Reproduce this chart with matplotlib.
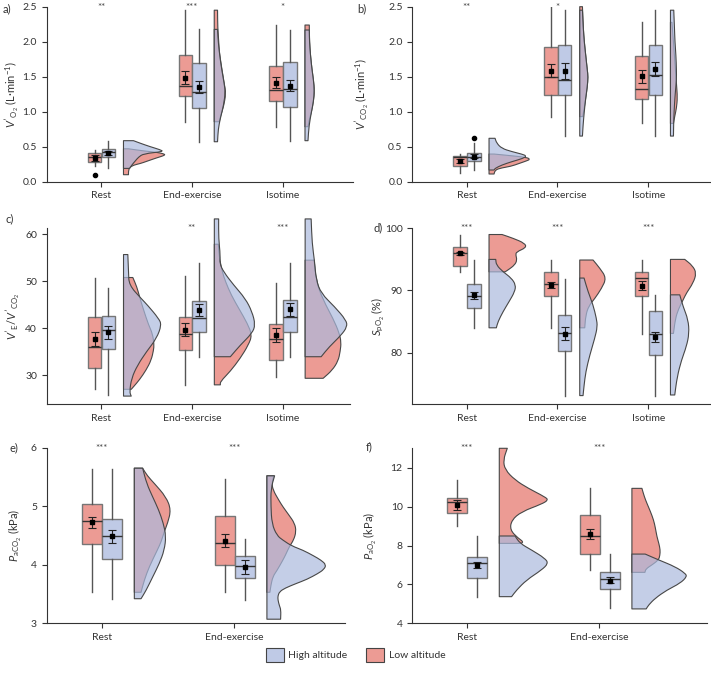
import matplotlib
matplotlib.use("Agg")
import matplotlib.pyplot as plt
from matplotlib.patches import Patch, PathPatch
from matplotlib.path import Path

plt.rcParams['font.family'] = ['Lato', 'DejaVu Sans']
plt.rcParams['mathtext.fontset'] = 'custom'
plt.rcParams['mathtext.rm'] = 'Lato'
plt.rcParams['mathtext.it'] = 'Lato:italic'
plt.rcParams['mathtext.bf'] = 'Lato:bold'
plt.rcParams['axes.unicode_minus'] = False

cats3 = ["Rest", "End-exercise", "Isotime"]
cats2 = ["Rest", "End-exercise"]

# box stats per category: [whisker low, q1, median, q3, whisker high]
# violin profiles: (value, density width) pairs

# ---- a) VO2
a_low_box = [[0.23, 0.276, 0.348, 0.405, 0.46], [0.857, 1.219, 1.362, 1.805, 2.45], [0.786, 1.148, 1.31, 1.652, 2.238]]
a_high_box = [[0.19, 0.348, 0.43, 0.467, 0.586], [0.571, 1.057, 1.281, 1.69, 2.176], [0.586, 1.067, 1.319, 1.71, 2.167]]
a_low_mean = [0.343, 1.486, 1.414]
a_low_err = [(0.30, 0.38), (1.39, 1.58), (1.333, 1.50)]
a_high_mean = [0.41, 1.348, 1.371]
a_high_err = [(0.38, 0.44), (1.262, 1.438), (1.30, 1.452)]
a_low_out = [[0.10], [], []]
a_high_out = [[], [], []]
a_stars = ["**", "***", "*"]
a_low_viol = [
    [(0.47, 5), (0.44, 20), (0.42, 33), (0.40, 40), (0.38, 42), (0.34, 33), (0.29, 23), (0.26, 17), (0.237, 10), (0.20, 6), (0.15, 5), (0.10, 5)],
    [(2.45, 3.3), (2.2, 3.5), (2.0, 4.5), (1.86, 5), (1.64, 7.3), (1.40, 10), (1.26, 11.7), (1.07, 9.3), (0.95, 6.5), (0.857, 5)],
    [(2.238, 4.3), (2.0, 4.5), (1.8, 5.5), (1.6, 7), (1.45, 8.5), (1.3, 9.5), (1.15, 8.5), (1.0, 6.5), (0.9, 4.5), (0.786, 3)],
]
a_high_viol = [
    [(0.586, 10), (0.55, 16.7), (0.50, 26.7), (0.457, 36.7), (0.43, 40), (0.40, 20), (0.35, 15), (0.30, 12), (0.25, 9), (0.19, 6)],
    [(2.176, 3.3), (2.0, 4), (1.8, 5.5), (1.6, 7.5), (1.4, 10), (1.28, 11), (1.1, 9.5), (0.9, 6), (0.75, 4), (0.571, 3.3)],
    [(2.167, 4.3), (2.0, 4.5), (1.8, 5.5), (1.6, 7), (1.45, 8.5), (1.3, 9.3), (1.15, 8.5), (1.0, 6.5), (0.8, 4), (0.586, 3)],
]

# ---- b) VCO2
b_low_box = [[0.12, 0.229, 0.35, 0.367, 0.395], [0.93, 1.243, 1.49, 1.919, 2.5], [0.833, 1.176, 1.319, 1.80, 2.276]]
b_high_box = [[0.167, 0.295, 0.357, 0.405, 0.55], [0.652, 1.243, 1.448, 1.948, 2.45], [0.652, 1.243, 1.524, 1.948, 2.45]]
b_low_mean = [0.295, 1.586, 1.505]
b_low_err = [(0.267, 0.324), (1.49, 1.676), (1.41, 1.60)]
b_high_mean = [0.36, 1.581, 1.614]
b_high_err = [(0.338, 0.39), (1.471, 1.69), (1.514, 1.71)]
b_low_out = [[], [], []]
b_high_out = [[0.62], [], []]
b_stars = ["**", "*", ""]
b_low_viol = [
    [(0.395, 5), (0.38, 16), (0.348, 37.7), (0.32, 41), (0.30, 38), (0.26, 30), (0.22, 22), (0.19, 10), (0.16, 6), (0.11, 5)],
    [(2.5, 2.7), (2.2, 3.5), (2.0, 4.5), (1.8, 6), (1.6, 7.5), (1.5, 8.3), (1.35, 7.5), (1.2, 6), (1.05, 4.5), (0.93, 3)],
    [(2.276, 1.5), (2.0, 3), (1.8, 4), (1.6, 5), (1.4, 6), (1.2, 7), (1.05, 6), (0.95, 4.5), (0.833, 3)],
]
b_high_viol = [
    [(0.62, 6), (0.55, 7.7), (0.476, 12.7), (0.43, 22.7), (0.395, 32.7), (0.367, 37.7), (0.333, 34), (0.286, 22.7), (0.238, 12.7), (0.19, 6), (0.167, 5)],
    [(2.45, 2.7), (2.2, 3.5), (2.0, 4.5), (1.8, 6), (1.6, 7.5), (1.5, 8.3), (1.35, 7.5), (1.2, 6), (1.0, 4.5), (0.8, 3.3), (0.652, 2.7)],
    [(2.45, 3.3), (2.2, 4), (2.0, 4.5), (1.8, 5.5), (1.6, 6), (1.45, 6), (1.3, 5), (1.1, 4), (0.9, 3.3), (0.652, 3)],
]

# ---- c) VE/VCO2
c_low_box = [[26.95, 31.6, 36.0, 42.3, 50.7], [27.9, 35.3, 38.7, 42.3, 51.1], [29.5, 33.3, 37.7, 40.9, 49.6]]
c_high_box = [[25.7, 35.5, 39.7, 42.6, 48.5], [33.9, 39.1, 42.1, 45.7, 53.8], [33.9, 39.2, 42.4, 45.9, 53.8]]
c_low_mean = [37.7, 39.7, 38.6]
c_low_err = [(36.2, 39.1), (38.3, 41.2), (37.1, 40.1)]
c_high_mean = [39.1, 43.9, 44.0]
c_high_err = [(37.7, 40.4), (42.6, 45.1), (42.6, 45.4)]
c_low_out = [[], [], []]
c_high_out = [[], [], []]
c_stars = ["", "**", "***"]
c_low_viol = [
    [(50.8, 9.3), (48.8, 13.3), (46.7, 16), (43.9, 20), (40.7, 25), (38.8, 29), (36.5, 30.5), (35.3, 30), (33.2, 27.7), (31.1, 22.7), (29, 16), (27.5, 10), (26.95, 7.7)],
    [(57.9, 4), (55, 5), (52, 8), (50, 11), (47, 17), (44, 25), (41, 33), (38.5, 37.7), (36.4, 34), (33.6, 26), (30.8, 16), (28.6, 6), (27.9, 6)],
    [(54.5, 9), (50, 11), (46, 18), (42, 28), (39, 34), (37, 36), (35, 35), (33, 33), (31, 27), (29.3, 18)],
]
c_high_viol = [
    [(55.7, 4.3), (52, 5), (49.2, 5.5), (46.3, 17.7), (44.9, 24), (42.1, 35), (40.7, 38), (37.8, 33), (35, 23), (32.1, 14), (29.3, 8), (26.4, 6), (25.5, 7.7)],
    [(63.3, 4.3), (59.1, 4.3), (55.5, 6), (53.8, 5.3), (52, 9.3), (49.2, 19.3), (46.3, 31), (43.5, 37.7), (40.7, 41), (38.9, 37.7), (36.4, 26), (33.9, 16)],
    [(63.3, 6), (58, 7), (54.5, 9.3), (50.3, 11), (47.4, 16), (44.6, 29.3), (41.7, 41), (40.3, 42), (38.5, 36), (36, 24), (33.9, 16)],
]

# ---- d) SpO2
d_low_box = [[93.0, 93.9, 96.0, 97.05, 98.9], [84.0, 89.17, 91.0, 93.03, 94.9], [83.06, 89.1, 92.06, 92.97, 94.9]]
d_high_box = [[84.0, 87.24, 89.17, 91.05, 94.9], [73.1, 80.3, 83.1, 86.1, 91.85], [73.1, 79.7, 82.95, 86.7, 89.3]]
d_low_mean = [95.95, 90.9, 90.8]
d_low_err = [(95.65, 96.25), (90.45, 91.4), (90.1, 91.5)]
d_high_mean = [89.2, 83.0, 82.5]
d_high_err = [(88.6, 89.7), (82.0, 84.1), (81.7, 83.4)]
d_low_out = [[], [], []]
d_high_out = [[], [], []]
d_stars = ["***", "***", "***"]
d_low_viol = [
    [(99, 13), (98.4, 24), (97.6, 35.7), (96.9, 37.3), (96.2, 27.3), (95.7, 26.7), (94.9, 28), (94.1, 25.7), (93.3, 19), (93.0, 16)],
    [(94.9, 13.3), (93.6, 20), (92, 26.7), (90.3, 21.7), (88.7, 15), (87.5, 9), (86, 6), (84, 5)],
    [(95, 14.3), (94, 22), (92.8, 26), (91.2, 22.7), (89.6, 16), (88.5, 12.7), (87, 8), (85.5, 5), (83.1, 3)],
]
d_high_viol = [
    [(95, 6.7), (94.1, 7.3), (93, 14), (92, 22.3), (90.9, 26.7), (89.8, 25.7), (88.2, 20), (86.6, 14), (85, 9), (84, 7.3)],
    [(92, 4.3), (89.8, 8.3), (87.7, 13.3), (85.5, 16.7), (84.2, 17.7), (82.3, 15), (79.6, 10), (76.9, 6), (74.7, 4.3), (73.1, 3.3)],
    [(89.3, 9.3), (87.4, 12.7), (85.3, 17.7), (83.1, 18.7), (81, 16), (78.8, 11), (76.1, 6.7), (73.2, 4.3)],
]

# ---- e) PaCO2
e_low_box = [[3.53, 4.36, 4.75, 5.04, 5.63], [3.53, 4.0, 4.38, 4.84, 5.47]]
e_high_box = [[3.42, 4.10, 4.49, 4.78, 5.64], [3.39, 3.77, 3.98, 4.15, 4.44]]
e_low_mean = [4.73, 4.41]
e_low_err = [(4.62, 4.81), (4.30, 4.52)]
e_high_mean = [4.49, 3.97]
e_high_err = [(4.38, 4.59), (3.84, 4.08)]
e_low_out = [[], []]
e_high_out = [[], []]
e_stars = ["***", "***"]
e_low_viol = [
    [(5.65, 8.3), (5.52, 13), (5.39, 20), (5.16, 31.7), (4.94, 36.7), (4.71, 33.3), (4.57, 30), (4.40, 27), (4.25, 23), (3.97, 15), (3.74, 10), (3.53, 6.7)],
    [(5.52, 7), (5.40, 5), (5.28, 6), (5.10, 12), (4.99, 16), (4.85, 22), (4.71, 27.7), (4.57, 29.3), (4.42, 26.7), (4.32, 22.7), (4.18, 19), (4.08, 16), (3.90, 10), (3.80, 6), (3.65, 4), (3.53, 3)],
]
e_high_viol = [
    [(5.65, 8.3), (5.39, 12.3), (5.16, 18.3), (4.94, 24.3), (4.71, 29), (4.49, 31.7), (4.25, 30), (4.02, 25), (3.79, 18.3), (3.56, 11.7), (3.42, 6.7)],
    [(5.52, 7.7), (5.3, 4), (5.0, 4), (4.7, 5), (4.5, 10), (4.42, 16), (4.32, 25), (4.25, 36), (4.15, 47), (4.08, 54), (4.0, 59.3), (3.92, 57), (3.85, 51), (3.75, 40), (3.68, 29.3), (3.6, 18), (3.54, 12.7), (3.47, 11), (3.40, 11), (3.3, 12.5), (3.23, 14), (3.07, 13.7)],
]

# ---- f) PaO2
f_low_box = [[9.0, 9.65, 10.22, 10.46, 11.37], [6.74, 7.56, 8.49, 9.57, 10.94]]
f_high_box = [[5.37, 6.31, 7.08, 7.43, 8.49], [4.77, 5.78, 6.28, 6.62, 7.56]]
f_low_mean = [10.1, 8.58]
f_low_err = [(9.83, 10.34), (8.32, 8.85)]
f_high_mean = [7.0, 6.19]
f_high_err = [(6.83, 7.17), (6.06, 6.4)]
f_low_out = [[], []]
f_high_out = [[], []]
f_stars = ["***", "***"]
f_low_viol = [
    [(13.0, 8), (12.4, 4), (11.9, 5.7), (11.37, 15.7), (10.94, 29), (10.5, 45.7), (10.34, 49), (10.13, 42.3), (9.74, 22.3), (9.31, 12.3), (8.8, 10.7), (8.37, 19), (8.2, 24), (8.11, 22)],
    [(10.94, 10), (10.5, 12.5), (10.17, 15), (9.75, 18.5), (9.31, 21.7), (8.9, 23.5), (8.46, 25), (8.1, 27), (7.77, 28.3), (7.5, 28), (7.26, 26.7), (7.0, 20), (6.8, 14), (6.62, 13)],
]
f_high_viol = [
    [(8.49, 15.7), (8.11, 20.7), (7.77, 32.3), (7.34, 45.7), (7.08, 49), (6.74, 42.3), (6.23, 27.3), (5.71, 17.3), (5.37, 12.3)],
    [(7.56, 13.3), (7.26, 26.7), (6.91, 43.3), (6.57, 53.3), (6.4, 55), (6.06, 48.3), (5.71, 35), (5.29, 23.3), (4.94, 16.7), (4.74, 14.3)],
]

LOW = '#ec9b94'
HIGH_BOX = '#bfcae6'
HIGH_VIOL = (0.675, 0.729, 0.871, 0.7)
EDGE = '#474747'
TXT = '#333333'


def half_violin(ax, x0, prof, face, scale):
    # outline: flat top, rounded outer edge (quadratic curves through the read points), flat bottom
    pts = [(x0 + w * scale, y) for y, w in prof]
    verts = [(x0, pts[0][1]), pts[0]]
    codes = [Path.MOVETO, Path.LINETO]
    verts.append(((pts[0][0] + pts[1][0]) / 2, (pts[0][1] + pts[1][1]) / 2))
    codes.append(Path.LINETO)
    for k in range(1, len(pts) - 1):
        mid = ((pts[k][0] + pts[k + 1][0]) / 2, (pts[k][1] + pts[k + 1][1]) / 2)
        verts += [pts[k], mid]
        codes += [Path.CURVE3, Path.CURVE3]
    verts += [pts[-1], (x0, pts[-1][1]), (x0, pts[0][1])]
    codes += [Path.LINETO, Path.LINETO, Path.CLOSEPOLY]
    ax.add_patch(PathPatch(Path(verts, codes), facecolor=face, edgecolor=EDGE, lw=0.8,
                           joinstyle='round', clip_on=False, zorder=2))


def draw_panel(ax, cats, low_box, high_box, low_mean, low_err, high_mean, high_err,
               low_out, high_out, low_viol, high_viol, stars, px_per_cat, star_y):
    scale = 1.0 / px_per_cat
    for i in range(len(cats)):
        for off, box, mean, err, out, col in [(-0.072, low_box[i], low_mean[i], low_err[i], low_out[i], LOW),
                                             (0.08, high_box[i], high_mean[i], high_err[i], high_out[i], HIGH_BOX)]:
            st = dict(whislo=box[0], q1=box[1], med=box[2], q3=box[3], whishi=box[4], fliers=out)
            ax.bxp([st], positions=[i + off], widths=0.15, patch_artist=True, showcaps=False,
                   boxprops=dict(facecolor=col, edgecolor='#767676', lw=1.0),
                   whiskerprops=dict(color='#555555', lw=1.0),
                   medianprops=dict(color='#333333', lw=1.0),
                   flierprops=dict(marker='o', markersize=3, markerfacecolor='black', markeredgecolor='black'),
                   manage_ticks=False, zorder=3)
            ax.errorbar([i + off], [mean], yerr=[[mean - err[0]], [err[1] - mean]], fmt='s', ms=2.5,
                        color='black', ecolor='#222222', elinewidth=0.8, capsize=3, capthick=0.8, zorder=4)
        half_violin(ax, i + 0.246, low_viol[i], LOW, scale)
        half_violin(ax, i + 0.246, high_viol[i], HIGH_VIOL, scale)
        if stars[i]:
            ax.text(i, star_y, stars[i], ha='center', va='baseline', fontsize=7, color='#444444', clip_on=False)
    ax.set_xticks(range(len(cats)))
    ax.set_xticklabels(cats)
    ax.spines['top'].set_visible(False)
    ax.spines['right'].set_visible(False)
    for s in ['left', 'bottom']:
        ax.spines[s].set_color('#333333')
        ax.spines[s].set_linewidth(0.8)
    ax.tick_params(length=3.5, width=0.8, color='#333333', labelcolor=TXT, labelsize=7.5)


fig = plt.figure(figsize=(7.11, 6.8), dpi=100)
W, H = 711.0, 680.0


def add_axes(l, r, top, bot):
    return fig.add_axes([l / W, 1 - bot / H, (r - l) / W, (bot - top) / H])


ax_a = add_axes(46.7, 353, 6.7, 181.7)
ax_b = add_axes(412.3, 711, 6.7, 181.7)
ax_c = add_axes(46.7, 350, 228.3, 404.3)
ax_d = add_axes(412.3, 711, 228.3, 404.3)
ax_e = add_axes(46.7, 345, 447.7, 623.3)
ax_f = add_axes(412.3, 706.7, 448.3, 623.3)

draw_panel(ax_a, cats3, a_low_box, a_high_box, a_low_mean, a_low_err, a_high_mean, a_high_err,
           a_low_out, a_high_out, a_low_viol, a_high_viol, a_stars, 90.7, 2.446)
draw_panel(ax_b, cats3, b_low_box, b_high_box, b_low_mean, b_low_err, b_high_mean, b_high_err,
           b_low_out, b_high_out, b_low_viol, b_high_viol, b_stars, 90.7, 2.446)
draw_panel(ax_c, cats3, c_low_box, c_high_box, c_low_mean, c_low_err, c_high_mean, c_high_err,
           c_low_out, c_high_out, c_low_viol, c_high_viol, c_stars, 90.7, 60.7)
draw_panel(ax_d, cats3, d_low_box, d_high_box, d_low_mean, d_low_err, d_high_mean, d_high_err,
           d_low_out, d_high_out, d_low_viol, d_high_viol, d_stars, 90.7, 99.57)
draw_panel(ax_e, cats2, e_low_box, e_high_box, e_low_mean, e_low_err, e_high_mean, e_high_err,
           e_low_out, e_high_out, e_low_viol, e_high_viol, e_stars, 132.6, 5.945)
draw_panel(ax_f, cats2, f_low_box, f_high_box, f_low_mean, f_low_err, f_high_mean, f_high_err,
           f_low_out, f_high_out, f_low_viol, f_high_viol, f_stars, 132.6, 12.86)

ax_a.set_xlim(-0.6, 2.775); ax_a.set_ylim(0, 2.5)
ax_a.set_yticks([0, 0.5, 1.0, 1.5, 2.0, 2.5])
ax_a.set_yticklabels(['0.0', '0.5', '1.0', '1.5', '2.0', '2.5'])
ax_b.set_xlim(-0.6, 2.693); ax_b.set_ylim(0, 2.5)
ax_b.set_yticks([0, 0.5, 1.0, 1.5, 2.0, 2.5])
ax_b.set_yticklabels(['0.0', '0.5', '1.0', '1.5', '2.0', '2.5'])
ax_c.set_xlim(-0.6, 2.74); ax_c.set_ylim(23.75, 61.3)
ax_c.set_yticks([30, 40, 50, 60])
ax_d.set_xlim(-0.6, 2.693); ax_d.set_ylim(71.7, 100)
ax_d.set_yticks([80, 90, 100])
ax_e.set_xlim(-0.415, 1.835); ax_e.set_ylim(3, 6)
ax_e.set_yticks([3, 4, 5, 6])
ax_f.set_xlim(-0.41, 1.81); ax_f.set_ylim(4, 13)
ax_f.set_yticks([4, 6, 8, 10, 12])

labels = [
    (ax_a, r"$V'_{\mathrm{O_2}}$ (L·min$^{-1}$)", -0.113),
    (ax_b, r"$V'_{\mathrm{CO_2}}$ (L·min$^{-1}$)", -0.168),
    (ax_c, r"$V'_{\mathrm{E}}/V'_{\mathrm{CO_2}}$", -0.11),
    (ax_d, r"$S_{\mathrm{pO_2}}$ (%)", -0.118),
    (ax_e, r"$P_{\mathrm{aCO_2}}$ (kPa)", -0.105),
    (ax_f, r"$P_{\mathrm{aO_2}}$ (kPa)", -0.142),
]
for ax, txt, lx in labels:
    ax.set_ylabel(txt, fontsize=8, color=TXT, va='center')
    ax.yaxis.set_label_coords(lx, 0.5)

for lab, x, y in [("a)", 3, 3), ("b)", 357, 3), ("c)", 6, 213), ("d)", 373, 222), ("e)", 10, 442), ("f)", 366, 441)]:
    fig.text(x / W, 1 - y / H, lab, ha='left', va='top', fontsize=8, color=TXT)

handles = [Patch(facecolor=HIGH_BOX, edgecolor='#444444', lw=0.8, label='High altitude'),
           Patch(facecolor=LOW, edgecolor='#444444', lw=0.8, label='Low altitude')]
fig.legend(handles=handles, loc='center', bbox_to_anchor=(0.5, 1 - 655 / H), ncol=2, frameon=False,
           fontsize=7.5, handlelength=1.75, handleheight=1.75, columnspacing=1.8, handletextpad=0.4)
for t in fig.legends[0].get_texts():
    t.set_color(TXT)

fig.savefig("out.png", dpi=100)
